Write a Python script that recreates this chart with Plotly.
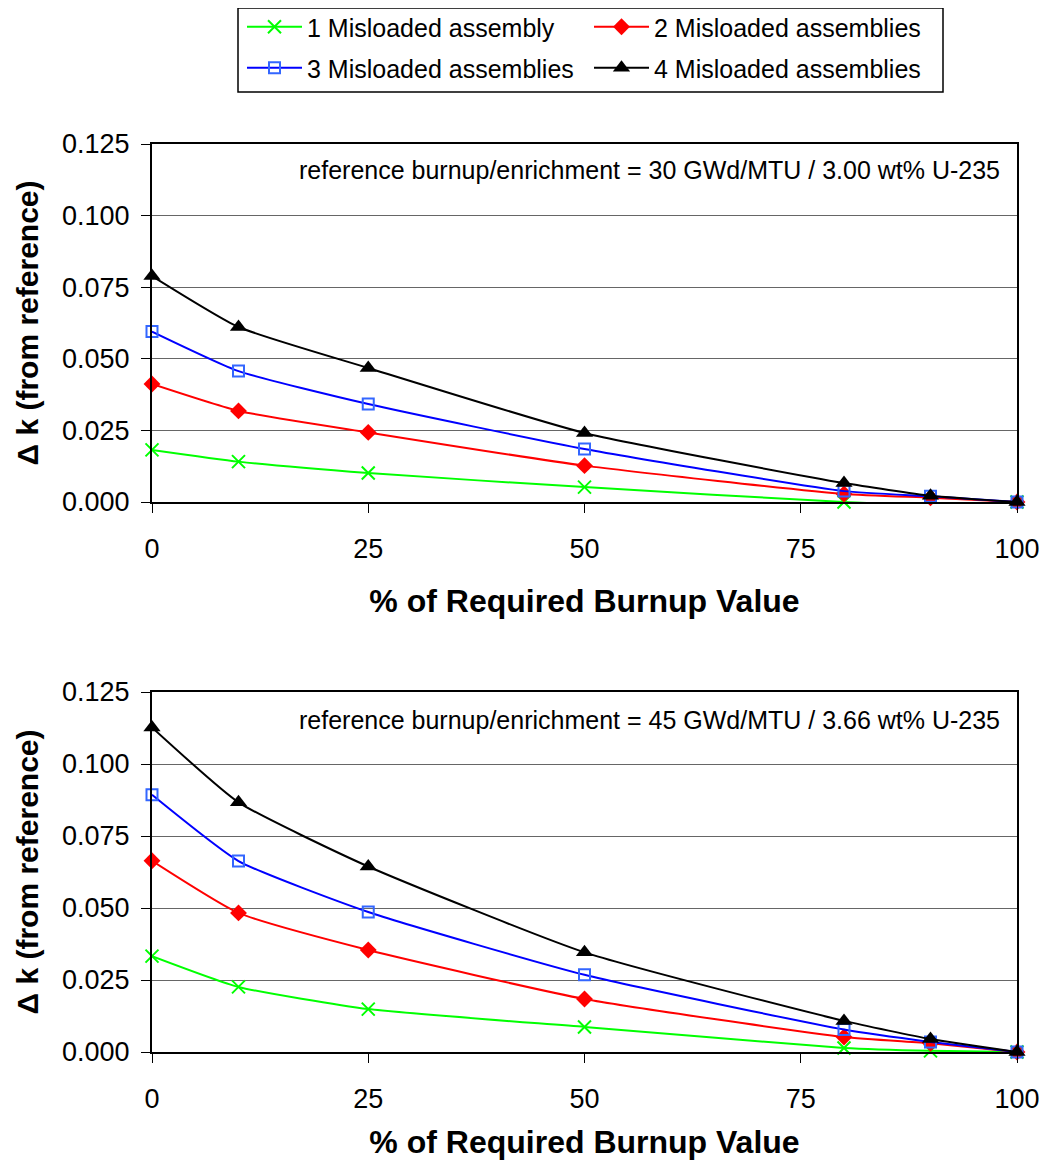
import plotly.graph_objects as go

# ---------------- data ----------------
x_pct = [0, 10, 25, 50, 80, 90, 100]

series_names = ["1 Misloaded assembly", "2 Misloaded assemblies",
                "3 Misloaded assemblies", "4 Misloaded assemblies"]

# top panel: reference 30 GWd/MTU / 3.00 wt% U-235
top_1 = [0.0182, 0.0141, 0.0101, 0.0052, 0.0000, -0.0010, 0.0]
top_2 = [0.0412, 0.0318, 0.0243, 0.0127, 0.0028, 0.0015, 0.0]
top_3 = [0.0595, 0.0457, 0.0342, 0.0185, 0.0038, 0.0020, 0.0]
top_4 = [0.0789, 0.0611, 0.0468, 0.0241, 0.0066, 0.0022, 0.0]

# bottom panel: reference 45 GWd/MTU / 3.66 wt% U-235
bot_1 = [0.0333, 0.0226, 0.0149, 0.0087, 0.0014, 0.0004, 0.0]
bot_2 = [0.0664, 0.0483, 0.0354, 0.0184, 0.0052, 0.0030, 0.0]
bot_3 = [0.0893, 0.0663, 0.0486, 0.0268, 0.0078, 0.0035, 0.0]
bot_4 = [0.1127, 0.0867, 0.0644, 0.0346, 0.0108, 0.0045, 0.0]

y_ticks = [0.000, 0.025, 0.050, 0.075, 0.100, 0.125]
y_ticklabels = ["0.000", "0.025", "0.050", "0.075", "0.100", "0.125"]
x_ticks = [0, 25, 50, 75, 100]

notes = ["reference burnup/enrichment = 30 GWd/MTU / 3.00 wt% U-235",
         "reference burnup/enrichment = 45 GWd/MTU / 3.66 wt% U-235"]

# ---------------- styles / layout ----------------
line_colors = ["#00FF00", "#FF0000", "#0000FF", "#000000"]
marker_styles = [
    dict(symbol="x-thin-open", size=13, color="#00FF00", line=dict(color="#00FF00", width=2)),
    dict(symbol="diamond", size=13, color="#FF0000", line=dict(color="#FF0000", width=0)),
    dict(symbol="square-open", size=11, color="#3366FF", line=dict(color="#3366FF", width=2)),
    dict(symbol="triangle-up", size=15, color="#000000", line=dict(color="#000000", width=0)),
]
legend_ids = ["legend", "legend", "legend2", "legend2"]

OFF = 8                      # default page body margin
W, H = 1047 - OFF, 1168 - 2 * OFF
# desired plot area on screen: x 152..1017, y 144..1052
ML = 152 - OFF
MT = 144 - OFF
MR = W - (1017 - OFF)
MB = H - (1052 - OFF)
PW, PH = W - ML - MR, H - MT - MB
top_y0, top_y1 = 144, 502
bot_y0, bot_y1 = 692, 1052

def px_x(sx):
    return (sx - OFF - ML) / PW

def px_y(sy):
    return 1 - (sy - OFF - MT) / PH

fig = go.Figure()

panels = [
    ([top_1, top_2, top_3, top_4], "x", "y", True),
    ([bot_1, bot_2, bot_3, bot_4], "x2", "y2", False),
]
for data, xa, ya, show in panels:
    for i, yv in enumerate(data):
        fig.add_trace(go.Scatter(
            x=x_pct, y=yv, name=series_names[i], mode="lines+markers",
            line=dict(color=line_colors[i], width=2, shape="spline", smoothing=0.5),
            marker=marker_styles[i], xaxis=xa, yaxis=ya,
            showlegend=show, legend=legend_ids[i], cliponaxis=False,
        ))

font_family = "Liberation Sans, Arial, sans-serif"
tick_font = dict(family=font_family, size=27, color="#000000")
xtitle_font = dict(family=font_family, size=32, color="#000000", weight="bold")
ytitle_font = dict(family=font_family, size=30, color="#000000", weight="bold")

def xaxis_cfg(anchor, standoff):
    return dict(
        domain=[0, 1], anchor=anchor, range=[0, 100], automargin=False,
        tickvals=x_ticks, ticks="outside", ticklen=9, tickwidth=1, tickcolor="#000000",
        showgrid=False, zeroline=False, showline=True, linecolor="#000000", linewidth=2,
        mirror=True, tickfont=tick_font, ticklabelstandoff=13,
        ticklabeloverflow="allow",
        title=dict(text="% of Required Burnup Value", font=xtitle_font, standoff=standoff),
    )

def yaxis_cfg(anchor, y_top, y_bot):
    return dict(
        domain=[px_y(y_bot), px_y(y_top)], anchor=anchor, range=[0, 0.125],
        automargin=False,
        tickvals=y_ticks, ticktext=y_ticklabels, ticks="outside", ticklen=9,
        tickwidth=1, tickcolor="#000000",
        showgrid=True, gridcolor="#666666", gridwidth=1,
        zeroline=True, zerolinecolor="#000000", zerolinewidth=3,
        showline=True, linecolor="#000000", linewidth=2, mirror=True,
        tickfont=tick_font, ticklabelstandoff=6,
        title=dict(text="Δ k (from reference)", font=ytitle_font, standoff=15),
    )

legend_common = dict(orientation="h", xanchor="left", yanchor="middle",
                     entrywidth=277, entrywidthmode="pixels", itemwidth=55,
                     font=dict(family=font_family, size=25, color="#000000"),
                     bgcolor="rgba(0,0,0,0)", borderwidth=0, tracegroupgap=0)

fig.update_layout(
    width=W, height=H,
    margin=dict(l=ML, r=MR, t=MT, b=MB, autoexpand=False),
    paper_bgcolor="white", plot_bgcolor="white",
    font=dict(family=font_family, color="#000000"),
    xaxis=xaxis_cfg("y", 26),
    yaxis=yaxis_cfg("x", top_y0, top_y1),
    xaxis2=xaxis_cfg("y2", 32),
    yaxis2=yaxis_cfg("x2", bot_y0, bot_y1),
    legend=dict(x=px_x(242), y=px_y(27), **legend_common),
    legend2=dict(x=px_x(242), y=px_y(68), **legend_common),
    shapes=[dict(type="rect", xref="paper", yref="paper",
                 x0=px_x(238), x1=px_x(943), y0=px_y(92), y1=px_y(8),
                 line=dict(color="#000000", width=1.5), fillcolor="rgba(0,0,0,0)")],
    annotations=[
        dict(text=notes[0], xref="paper", yref="paper", x=px_x(1002), y=px_y(170),
             xanchor="right", yanchor="middle", showarrow=False,
             font=dict(family=font_family, size=25, color="#000000")),
        dict(text=notes[1], xref="paper", yref="paper", x=px_x(1002), y=px_y(720),
             xanchor="right", yanchor="middle", showarrow=False,
             font=dict(family=font_family, size=25, color="#000000")),
    ],
)

fig.write_html("out.html")
